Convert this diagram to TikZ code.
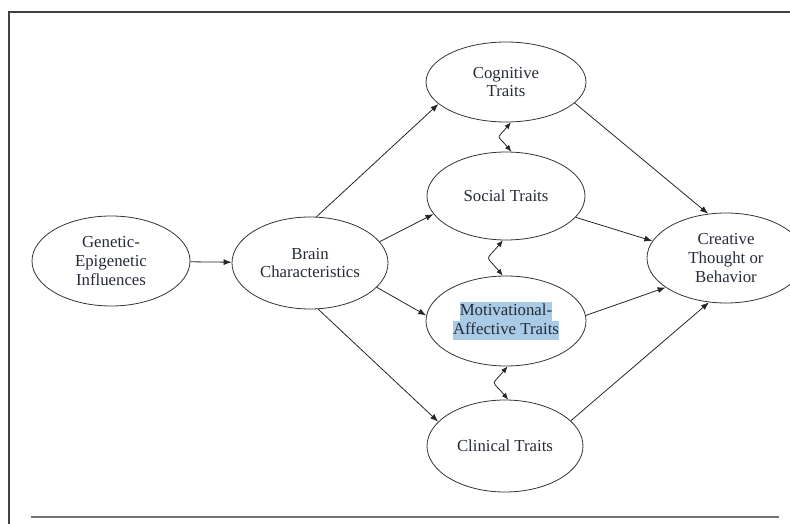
\documentclass[tikz,border=0pt]{standalone}
\usepackage{fontspec}
\setmainfont{Liberation Serif}
\usepackage{xcolor}
\usetikzlibrary{positioning,arrows.meta,shapes.geometric}

\definecolor{inktxt}{HTML}{262B38}
\definecolor{selblue}{HTML}{A9CBE6}
\newcommand{\hlsel}[1]{{\setlength{\fboxsep}{0pt}\colorbox{selblue}{\strut #1}}}

\begin{document}
\begin{tikzpicture}[x=0.75pt, y=-0.75pt,
  trait/.style={ellipse, draw=black!80, line width=0.6pt, align=center, text=inktxt,
             font=\fontsize{12.6}{14}\selectfont, inner sep=0pt,
             minimum width=118.5pt, minimum height=67.5pt},
  arr/.style={-{Latex[length=6pt,width=4.5pt]}, line width=0.6pt, black!85},
  dbl/.style={{Latex[length=5pt,width=4pt]}-{Latex[length=5pt,width=4pt]}, line width=0.6pt,
             black!85, looseness=2},
]
\useasboundingbox (0,0) rectangle (790,524);

% frame of the figure
\draw[line width=1.5pt, black!75] (8,12) -- (790,12);
\draw[line width=1.5pt, black!75] (9,11) -- (9,524);
\draw[line width=1.2pt, black!55] (31,517) -- (779,517);

\node[trait] (gen)   at (111,261) {Genetic-\\ Epigenetic\\ Influences};
\node[trait, minimum width=117pt, minimum height=69pt] (brain) at (310,263) {Brain\\ Characteristics};
\node[trait, minimum width=120pt, minimum height=60pt] (cog) at (506,82) {Cognitive\\ Traits};
\node[trait, minimum height=66pt] (soc) at (506,196) {Social Traits};
\node[trait, minimum width=120pt] (mot) at (506,321) {\hlsel{Motivational-}\\ \hlsel{Affective Traits}};
\node[trait, minimum width=117pt, minimum height=69pt] (cli) at (505,446) {Clinical Traits};
\node[trait] (cre)   at (726,258) {Creative\\ Thought or\\ Behavior};

\draw[arr] (gen) -- (brain);
\draw[arr] (brain.82) -- (cog.198);
\draw[arr] (brain.17) -- (soc.194);
\draw[arr] (brain.-20) -- (mot.176);
\draw[arr] (brain.-80) -- (cli.160);
\draw[arr] (cog.-17) -- (cre.112);
\draw[arr] (soc.-17) -- (cre.167);
\draw[arr] (mot.4) -- (cre.206);
\draw[arr] (cli.21) -- (cre.249);

% two-way links between the traits
\draw[dbl] (cog.-83) to[out=230,in=130] (soc.83);
\draw[dbl] (soc.-94) to[out=230,in=130] (mot.94);
\draw[dbl] (mot.-88) to[out=230,in=130] (cli.86);
\end{tikzpicture}
\end{document}
